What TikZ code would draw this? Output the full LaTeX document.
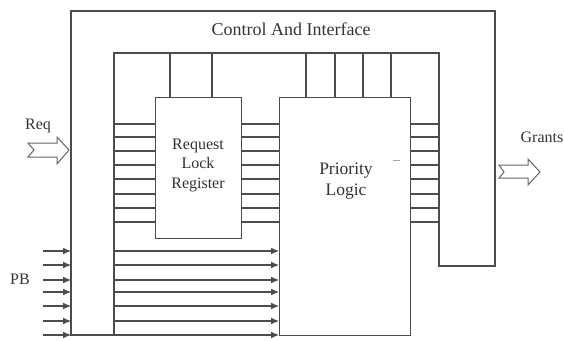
\documentclass[tikz,border=0pt]{standalone}
\usepackage{fontspec}
\setmainfont{Liberation Serif}
\newfontfamily\labelfont{Liberation Serif}
\usetikzlibrary{arrows.meta}
\begin{document}
\begin{tikzpicture}[x=1pt,y=-1pt,
  wire/.style={line width=1.3pt,draw=black!70,line join=miter},
  box/.style={wire,fill=white,inner sep=0pt,anchor=north west},
  busline/.style={line width=1.3pt,draw=black!70},
  pbarrow/.style={line width=1.1pt,draw=black!70,-{Latex[length=8pt,width=7pt]}},
  bigarrow/.style={line width=1pt,draw=black!60,fill=white,line join=miter},
  lbl/.style={font=\labelfont\fontsize{16}{19.5}\selectfont,text=black!80,align=center,inner sep=0pt}]

\useasboundingbox (0,0) rectangle (564,340);

% control and interface band (inverted U)
\draw[wire] (71,11) -- (495,11) -- (495,266) -- (439,266) -- (439,53)
  -- (114,53) -- (114,335) -- (71,335) -- cycle;
\node[lbl,font=\labelfont\fontsize{18}{21}\selectfont] (title) at (291,29) {Control And Interface};

% functional blocks
\node[box,minimum width=86pt,minimum height=141pt] (rlr) at (155,97) {};
\node[lbl] (rlrtext) at (198,165) {Request\\Lock\\Register};
\node[box,minimum width=131pt,minimum height=238pt] (pl) at (279,97) {};
\node[lbl,font=\labelfont\fontsize{17.5}{20.5}\selectfont] (pltext) at (346,181) {Priority\\Logic};
\draw[black!35,line width=0.6pt] (393,160) -- (400,160);

% control lines from the band to the blocks
\foreach \x in {170,212}
  \draw[busline] (\x,53) -- (rlr.north -| \x,0);
\foreach \x in {306,335,363,391}
  \draw[busline] (\x,53) -- (pl.north -| \x,0);

% request buses
\foreach \y in {124,137,151,165,179,194,208,222}{
  \draw[busline] (114,\y) -- (rlr.west |- 0,\y);
  \draw[busline] (rlr.east |- 0,\y) -- (pl.west |- 0,\y);
  \draw[busline] (pl.east |- 0,\y) -- (439,\y);
}

% PB inputs
\foreach \y in {251,265,280,292,306,321,335}{
  \draw[pbarrow] (43,\y) -- (71,\y);
  \draw[pbarrow] (114,\y) -- (pl.west |- 0,\y);
}
\node[lbl] (pb) at (20,279) {PB};

% request input and grant output
\draw[bigarrow] (28,143) -- (57,143) -- (57,137) -- (69,150) -- (57,164)
  -- (57,157) -- (28,157) -- (34,150) -- cycle;
\node[lbl] (req) at (38,126) {Req};
\draw[bigarrow] (499,165) -- (528,165) -- (528,159) -- (540,172) -- (528,185)
  -- (528,178) -- (499,178) -- (504,172) -- cycle;
\node[lbl] (grants) at (542,137) {Grants};
\end{tikzpicture}
\end{document}
